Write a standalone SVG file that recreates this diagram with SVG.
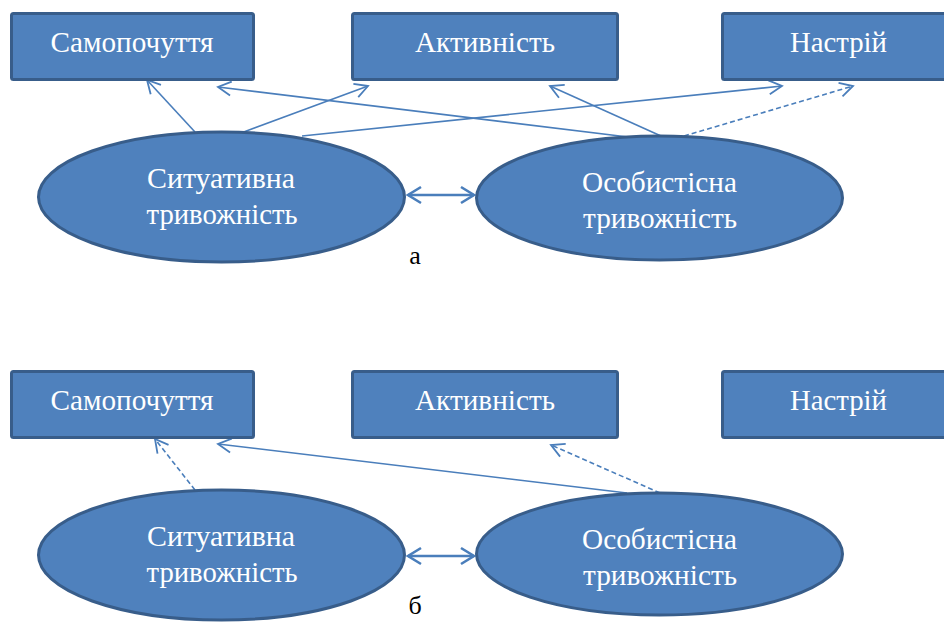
<svg xmlns="http://www.w3.org/2000/svg" width="944" height="624" viewBox="0 0 944 624">
<style>
.box{fill:#4F81BD;stroke:#385D8A;stroke-width:3}
.lbl{font-family:"Liberation Serif","Times New Roman","DejaVu Serif",serif;font-size:29px;fill:#FFFFFF;text-anchor:middle}
.cap{font-family:"Liberation Serif","Times New Roman","DejaVu Serif",serif;font-size:26px;fill:#000000;text-anchor:middle}
.c{fill:none;stroke:#4A7EBB;stroke-width:1.6}
.d{stroke-dasharray:5,3}
.dbl{fill:none;stroke:#4A7EBB;stroke-width:2.6}
</style>
<defs>
<marker id="ah" markerUnits="userSpaceOnUse" viewBox="-16 -10 20 20" markerWidth="20" markerHeight="20" refX="0" refY="0" orient="auto">
<path d="M-13,-7 L0,0 L-13,7" fill="none" stroke="#4A7EBB" stroke-width="1.8"/>
</marker>
<marker id="ah2" markerUnits="userSpaceOnUse" viewBox="-16 -10 20 20" markerWidth="20" markerHeight="20" refX="0" refY="0" orient="auto-start-reverse">
<path d="M-13,-8 L0,0 L-13,8" fill="none" stroke="#4A7EBB" stroke-width="2.6"/>
</marker>
</defs>
<g id="connectors-a">
<line class="c" x1="195" y1="132" x2="147" y2="80" marker-end="url(#ah)"/>
<line class="c" x1="241" y1="133" x2="368" y2="86" marker-end="url(#ah)"/>
<line class="c" x1="302" y1="136" x2="782" y2="86" marker-end="url(#ah)"/>
<line class="c" x1="628" y1="137" x2="218" y2="87" marker-end="url(#ah)"/>
<line class="c" x1="661" y1="136" x2="550" y2="86" marker-end="url(#ah)"/>
<line class="c d" x1="684" y1="136" x2="853" y2="86" marker-end="url(#ah)"/>
<line class="dbl" x1="408" y1="195" x2="474" y2="195" marker-start="url(#ah2)" marker-end="url(#ah2)"/>
</g>
<g id="connectors-b">
<line class="c d" x1="195" y1="490" x2="155" y2="439" marker-end="url(#ah)"/>
<line class="c" x1="627" y1="493" x2="218" y2="444" marker-end="url(#ah)"/>
<line class="c d" x1="660" y1="493" x2="551" y2="445" marker-end="url(#ah)"/>
<line class="dbl" x1="408" y1="556" x2="474" y2="556" marker-start="url(#ah2)" marker-end="url(#ah2)"/>
</g>
<g id="a-samopochuttia"><rect class="box" x="11.5" y="13.5" width="242" height="66" rx="2"/><text class="lbl" x="132" y="52" textLength="163" lengthAdjust="spacingAndGlyphs">Самопочуття</text></g>
<g id="a-aktyvnist"><rect class="box" x="352.5" y="13.5" width="265" height="66" rx="2"/><text class="lbl" x="485" y="52" textLength="140" lengthAdjust="spacingAndGlyphs">Активність</text></g>
<g id="a-nastrii"><rect class="box" x="722.5" y="13.5" width="240" height="66" rx="2"/><text class="lbl" x="838.5" y="52" textLength="97" lengthAdjust="spacingAndGlyphs">Настрій</text></g>
<g id="a-sytuatyvna"><ellipse class="box" cx="221.5" cy="197" rx="183" ry="65"/><text class="lbl" x="221" y="188" textLength="148" lengthAdjust="spacingAndGlyphs">Ситуативна</text><text class="lbl" x="222" y="224" textLength="151" lengthAdjust="spacingAndGlyphs">тривожність</text></g>
<g id="a-osobystisna"><ellipse class="box" cx="659.5" cy="198" rx="183" ry="62"/><text class="lbl" x="659.5" y="192" textLength="155" lengthAdjust="spacingAndGlyphs">Особистісна</text><text class="lbl" x="660" y="228" textLength="154" lengthAdjust="spacingAndGlyphs">тривожність</text></g>
<text class="cap" x="415" y="264">а</text>
<g id="b-samopochuttia"><rect class="box" x="11.5" y="371.5" width="242" height="66" rx="2"/><text class="lbl" x="132" y="410" textLength="163" lengthAdjust="spacingAndGlyphs">Самопочуття</text></g>
<g id="b-aktyvnist"><rect class="box" x="352.5" y="371.5" width="265" height="66" rx="2"/><text class="lbl" x="485" y="410" textLength="140" lengthAdjust="spacingAndGlyphs">Активність</text></g>
<g id="b-nastrii"><rect class="box" x="722.5" y="371.5" width="240" height="66" rx="2"/><text class="lbl" x="838.5" y="410" textLength="97" lengthAdjust="spacingAndGlyphs">Настрій</text></g>
<g id="b-sytuatyvna"><ellipse class="box" cx="221.5" cy="555" rx="183" ry="65"/><text class="lbl" x="221" y="546" textLength="148" lengthAdjust="spacingAndGlyphs">Ситуативна</text><text class="lbl" x="222" y="582" textLength="151" lengthAdjust="spacingAndGlyphs">тривожність</text></g>
<g id="b-osobystisna"><ellipse class="box" cx="659.5" cy="554" rx="183" ry="61"/><text class="lbl" x="659.5" y="549" textLength="155" lengthAdjust="spacingAndGlyphs">Особистісна</text><text class="lbl" x="660" y="585" textLength="154" lengthAdjust="spacingAndGlyphs">тривожність</text></g>
<text class="cap" x="415" y="614">б</text>
</svg>
